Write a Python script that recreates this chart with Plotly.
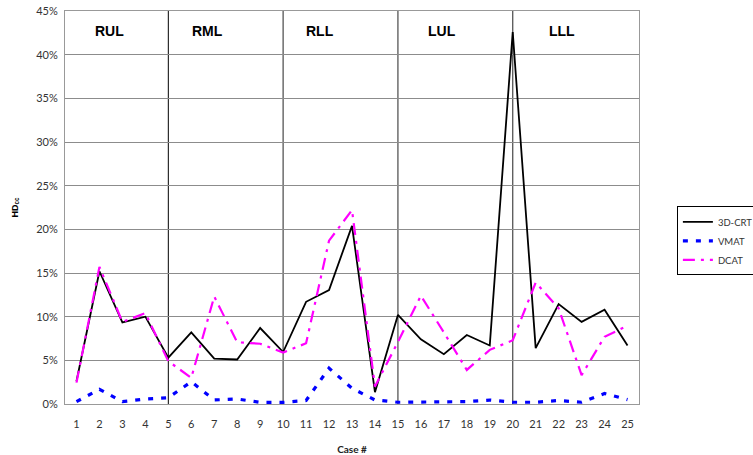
import plotly.graph_objects as go

# Case numbers and HDcc values per technique (fraction of volume)
cases = list(range(1, 26))
crt_3d = [0.026, 0.152, 0.0935, 0.100, 0.053, 0.082, 0.052, 0.051, 0.087, 0.0595,
          0.117, 0.1305, 0.204, 0.0135, 0.102, 0.074, 0.057, 0.079, 0.067, 0.426,
          0.064, 0.1145, 0.094, 0.108, 0.067]
vmat = [0.0027, 0.0168, 0.0027, 0.0057, 0.0072, 0.0255, 0.0046, 0.0057, 0.0019, 0.0019,
        0.004, 0.041, 0.018, 0.0046, 0.002, 0.002, 0.002, 0.0027, 0.0045, 0.002,
        0.002, 0.004, 0.002, 0.012, 0.005]
dcat = [0.0245, 0.157, 0.094, 0.104, 0.049, 0.030, 0.123, 0.0707, 0.069, 0.059,
        0.0695, 0.187, 0.222, 0.020, 0.071, 0.124, 0.082, 0.039, 0.062, 0.073,
        0.139, 0.1095, 0.033, 0.077, 0.0897]

# Lobe groups: label, label position (case), and dividing case lines
lobes = ["RUL", "RML", "RLL", "LUL", "LLL"]
lobe_label_x = [2.45, 6.7, 11.6, 16.9, 22.15]
dividers = [5, 10, 15, 20]

tick_font = dict(family="Lato, Liberation Sans, sans-serif", size=11, color="#333333")

fig = go.Figure()
fig.add_trace(go.Scatter(x=cases, y=crt_3d, name="3D-CRT", mode="lines",
                         line=dict(color="black", width=1.8)))
fig.add_trace(go.Scatter(x=cases, y=vmat, name="VMAT", mode="lines",
                         line=dict(color="#0000ff", width=3.2, dash="5px,8px")))
fig.add_trace(go.Scatter(x=cases, y=dcat, name="DCAT", mode="lines",
                         line=dict(color="#ff00ff", width=2.2, dash="12px,6px,3px,6px")))

shapes = []
for i, d in enumerate(dividers):
    shapes.append(dict(type="line", xref="x", yref="paper", x0=d, x1=d, y0=0, y1=1,
                       line=dict(color="black" if i == 0 else "#555555",
                                 width=1 if i == 0 else 1.3),
                       layer="below"))

annotations = []
for name, lx in zip(lobes, lobe_label_x):
    annotations.append(dict(x=lx, y=0.427, xref="x", yref="y", text=f"<b>{name}</b>",
                            showarrow=False,
                            font=dict(family="Liberation Sans, Arial, sans-serif",
                                      size=14, color="black")))

fig.update_layout(
    width=753, height=455,
    margin=dict(l=65, r=114, t=11, b=51, autoexpand=False),
    paper_bgcolor="white", plot_bgcolor="white",
    shapes=shapes, annotations=annotations,
    showlegend=True,
    legend=dict(x=1.066, y=0.503, xanchor="left", yanchor="top",
                bordercolor="black", borderwidth=1, bgcolor="white",
                font=dict(family="Lato, Liberation Sans, sans-serif", size=9.5, color="#333333"),
                tracegroupgap=0, itemwidth=30),
    xaxis=dict(range=[0.5, 25.5], tickmode="array", tickvals=cases,
               ticktext=[str(c) for c in cases], tickfont=tick_font,
               ticks="outside", ticklen=10, tickcolor="rgba(0,0,0,0)",
               showgrid=False, zeroline=False,
               showline=True, linecolor="#999999", linewidth=1, mirror=True,
               title=dict(text="<b>Case #</b>", standoff=18,
                          font=dict(family="Lato, Liberation Sans, sans-serif", size=10,
                                    color="#222222"))),
    yaxis=dict(range=[0, 0.45], tickmode="linear", tick0=0, dtick=0.05,
               tickformat=".0%", tickfont=tick_font,
               showgrid=True, gridcolor="#8c8c8c", gridwidth=1,
               zeroline=False, showline=True, linecolor="#999999", linewidth=1, mirror=True,
               ticks="outside", ticklen=4, tickcolor="rgba(0,0,0,0)",
               title=dict(text="<b>HD<sub>cc</sub></b>", standoff=16,
                          font=dict(family="Liberation Sans, Arial, sans-serif", size=9,
                                    color="black"))),
)

fig.write_html("out.html")
